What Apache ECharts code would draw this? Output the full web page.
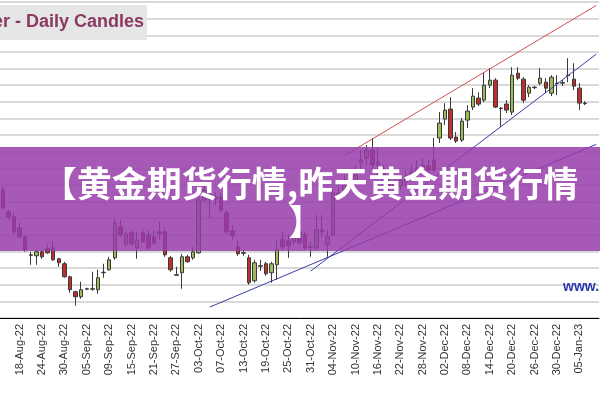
<!DOCTYPE html>
<html>
<head>
<meta charset="utf-8">
<script src="https://cdn.jsdelivr.net/npm/echarts@6/dist/echarts.min.js"></script>
<style>html,body{margin:0;padding:0;background:#fff}#chart{width:600px;height:400px}</style>
</head>
<body>
<div id="chart"></div>
<script>
// 交易日 15-Aug-22 .. 10-Jan-23 (工作日)
var categories = [];
(function () {
    var mon = ['Jan','Feb','Mar','Apr','May','Jun','Jul','Aug','Sep','Oct','Nov','Dec'];
    var d = new Date(Date.UTC(2022, 7, 15));
    var end = new Date(Date.UTC(2023, 0, 10));
    while (d <= end) {
        var w = d.getUTCDay();
        if (w != 0 && w != 6) {
            var dd = ('0' + d.getUTCDate()).slice(-2);
            categories.push(dd + '-' + mon[d.getUTCMonth()] + '-' + String(d.getUTCFullYear()).slice(2));
        }
        d.setUTCDate(d.getUTCDate() + 1);
    }
})();

var openArr = [1677,1663.8,1660.8,1654.2,1648.8,1638,1637.4,1639.8,1641.6,1642.2,
    1635.6,1632.6,1624.8,1615.8,1612.8,1617.6,1617.3,1617,1627.2,1629,
    1636.2,1654.8,1644.6,1651.2,1642.2,1651.2,1650,1648.8,1651.8,1651.8,
    1636.2,1626,1627.2,1636.8,1636.2,1639.2,1671,1674,1671.6,1672.8,
    1663.2,1652.4,1642.8,1639.2,1636.2,1622.4,1631.4,1632.6,1627.2,1632,
    1647,1646.4,1645.8,1651.8,1650,1642.8,1642.2,1653,1644,1650,
    1673.4,1677,1680,1683,1693.2,1696.2,1701,1692,1689,1681.8,
    1678.2,1679.4,1681.8,1685.4,1687.8,1690.2,1691.4,1695,1708.2,1719.6,
    1725.6,1708.8,1707,1719,1726.8,1732.2,1731,1740,1743,1726.2,
    1728.6,1723.8,1747.2,1743.6,1735.2,1738.8,1741.2,1741.8,1735.2,1741.2,
    1741.2,1746,1743.6,1738.2,1729.2];
var closeArr = [1666.2,1660.8,1651.8,1648.8,1641,1637.7,1639.8,1636.8,1639.2,1635,
    1633.2,1624.8,1617,1612.8,1617,1617.3,1617.6,1624.2,1627.5,1635,
    1657.2,1650,1650.6,1644.6,1647,1645.8,1642.2,1645.2,1650.6,1638,
    1629,1625.7,1636.8,1633.8,1639.8,1671,1677,1671,1672.8,1665,
    1651.8,1649.4,1638.6,1638.9,1621.2,1633.2,1631.1,1626.6,1632.6,1641,
    1642.8,1643.4,1649.4,1645.2,1642.2,1642.5,1653,1651.8,1648.8,1675.2,
    1675.2,1680,1683,1686,1695,1701,1692,1693.8,1681.8,1678.2,
    1680,1683,1685.4,1687.8,1690.2,1692,1689,1689,1717.2,1725,
    1708.2,1706.4,1718.4,1724.4,1733.4,1728.6,1740,1743,1726.8,1725.9,
    1725,1746,1744.2,1731,1738.8,1738.5,1744.2,1738.2,1744.8,1740.9,
    1741.5,1745.7,1739.4,1729.2,1728.9];
var lowArr = [1665,1659,1650.6,1648.2,1639.8,1632,1632,1635.6,1638.6,1634.4,
    1630.8,1624.2,1615.2,1607.4,1611.6,1617,1616.4,1614.6,1624.2,1628.4,
    1635,1648.8,1642.8,1644,1635.6,1645.2,1641,1644,1647,1636.8,
    1627.8,1625.4,1617.6,1633.2,1635,1638.6,1669.8,1660.2,1668,1663.8,
    1650.6,1647,1637.4,1637.4,1620,1621.2,1628.4,1625.4,1621.2,1623,
    1641,1636.2,1644,1644,1641,1636.8,1641,1648.8,1636.8,1649.4,
    1671,1674,1677,1680,1689,1692,1687.8,1683,1680,1675.8,
    1675.2,1677,1679.4,1681.8,1686,1687.8,1687.2,1687.8,1705.2,1716,
    1707,1705.2,1705.8,1714.2,1725,1727.4,1729.8,1738.2,1726.2,1714.8,
    1723.2,1722,1743,1729.2,1732.8,1737.6,1740,1735.2,1733.4,1734,
    1739.4,1741.8,1737,1725,1728];
var highArr = [1679.4,1665,1663.2,1657.2,1649.4,1639.8,1641,1641,1644,1646.4,
    1636.2,1633.8,1625.4,1616.4,1621.8,1618.2,1627.8,1629,1632.6,1636.8,
    1659.6,1659,1651.8,1653,1651.8,1653.6,1653,1653,1657.8,1654.2,
    1637.4,1630.8,1638.6,1638,1642.8,1674,1680,1677,1675.2,1675.2,
    1665,1656,1647,1641,1638,1635,1635,1633.8,1633.8,1647,
    1651.8,1650.6,1651.8,1654.2,1651.8,1645.8,1662,1662,1653,1677,
    1680,1686,1687.8,1692,1701,1704,1708.2,1702.2,1692,1684.2,
    1683,1686,1689,1692,1695,1696.2,1695,1708.2,1723.8,1729.2,
    1732.8,1711.8,1720.2,1728,1738.2,1735.8,1747.8,1750.2,1744.2,1726.8,
    1731,1750.8,1750.8,1744.8,1740,1739.4,1750.2,1744.2,1746,1746,
    1743,1756.2,1753.2,1741.2,1730.4];

// 趋势线 [起点索引, 起点价, 终点索引, 终点价]
var redLine = [61, 1697.6, 106, 1787.9];
var blueSteep = [55, 1628.2, 106, 1758.6];
var blueLow = [37, 1606.6, 106, 1704.4];

var titleText = 'er - Daily Candles';
var bannerLine1 = '【黄金期货行情,昨天黄金期货行情';
var bannerLine2 = '】';

var candleData = openArr.map(function (o, i) {
    return [o, closeArr[i], lowArr[i], highArr[i]];
});

function seg(a, color) {
    return [{ coord: [a[0], a[1]], lineStyle: { color: color, width: 1, type: 'solid' } },
            { coord: [a[2], a[3]] }];
}

var chart = echarts.init(document.getElementById('chart'));
var showLabel = function (i) { return (i - 3) % 4 === 0; };

chart.setOption({
    animation: false,
    backgroundColor: '#fff',
    grid: { left: -2, right: 1, top: 2, bottom: 82 },
    xAxis: {
        type: 'category',
        data: categories,
        axisLine: { lineStyle: { color: '#000', width: 1 } },
        axisTick: { interval: showLabel, length: 5, lineStyle: { color: '#000' }, alignWithLabel: true },
        axisLabel: { interval: showLabel, rotate: 90, fontSize: 11, color: '#333', fontFamily: 'Liberation Sans', margin: 6 },
        splitLine: { show: false }
    },
    yAxis: {
        min: 1600, max: 1790, interval: 10,
        axisLine: { show: false }, axisTick: { show: false }, axisLabel: { show: false },
        splitLine: { lineStyle: { color: '#cccccc', width: 1.5 } }
    },
    series: [{
        type: 'candlestick',
        data: candleData,
        barWidth: 4,
        itemStyle: {
            color: '#9bbb59', color0: '#c0302a',
            borderColor: '#3a3a3a', borderColor0: '#3a3a3a', borderWidth: 1
        },
        markLine: {
            silent: true, symbol: 'none', label: { show: false },
            data: [seg(redLine, '#d05050'), seg(blueSteep, '#3a3aa8'), seg(blueLow, '#3a3aa8')]
        }
    }],
    graphic: [
        { type: 'rect', shape: { x: 0, y: 5, width: 147, height: 35 }, style: { fill: '#e6e6e6' }, z: 10 },
        { type: 'text', x: 144, y: 22, style: { text: titleText, fill: '#8a3a60', font: 'bold 18px "Liberation Sans"', align: 'right', verticalAlign: 'middle' }, z: 11 },
        { type: 'text', x: 563, y: 287, style: { text: 'www.', fill: '#2a38b0', font: 'bold 14px "Liberation Sans"', verticalAlign: 'middle' }, z: 11 },
        { type: 'rect', shape: { x: 0, y: 147, width: 600, height: 104 }, style: { fill: 'rgba(150,60,170,0.85)' }, z: 20 },
        { type: 'text', x: 310, y: 184, style: { text: bannerLine1, fill: '#fff', font: 'bold 35px "Noto Sans CJK SC"', align: 'center', verticalAlign: 'middle' }, z: 21 },
        { type: 'text', x: 306, y: 222, style: { text: bannerLine2, fill: '#fff', font: 'bold 35px "Noto Sans CJK SC"', align: 'center', verticalAlign: 'middle' }, z: 21 }
    ]
});
</script>
</body>
</html>
